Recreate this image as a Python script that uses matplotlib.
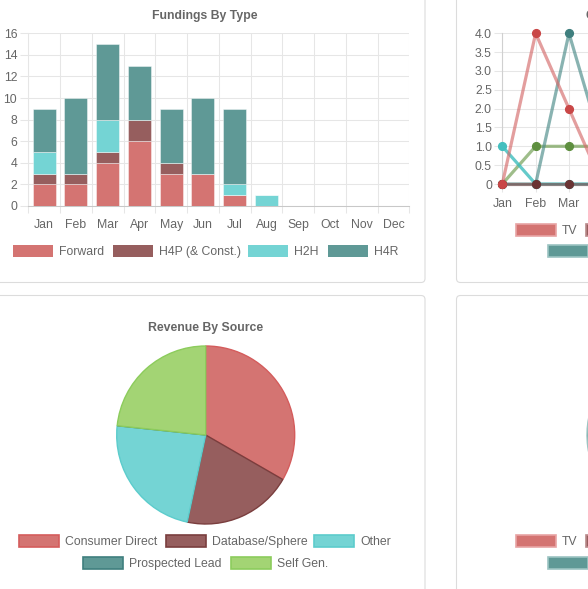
import numpy as np
import matplotlib
matplotlib.use('Agg')
import matplotlib.pyplot as plt
from matplotlib.patches import Rectangle, FancyBboxPatch
from matplotlib.transforms import Affine2D
from matplotlib.colors import to_rgba

plt.rcParams['font.family'] = ['Liberation Sans', 'DejaVu Sans']

# ---- data ----
months = ['Jan', 'Feb', 'Mar', 'Apr', 'May', 'Jun', 'Jul', 'Aug', 'Sep', 'Oct', 'Nov', 'Dec']

fund_names = ['Forward', 'H4P (& Const.)', 'H2H', 'H4R']
forward = [2, 2, 4, 6, 3, 3, 1, 0, 0, 0, 0, 0]
h4p = [1, 1, 1, 2, 1, 0, 0, 0, 0, 0, 0, 0]
h2h = [2, 0, 3, 0, 0, 0, 1, 1, 0, 0, 0, 0]
h4r = [4, 7, 7, 5, 5, 7, 7, 0, 0, 0, 0, 0]

# line chart (only Jan-Apr are visible in the crop)
tv = [0, 4, 2, 0]
internet = [0, 0, 0, 0]
radio = [1, 0, 0, 0]
referral = [0, 0, 4, 1]
printed = [0, 1, 1, 1]
visible_months = 3

rev_labels = ['Consumer Direct', 'Database/Sphere', 'Other', 'Prospected Lead', 'Self Gen.']
rev_values = [10, 6, 7, 0, 7]

src_values = [3, 1, 1, 5, 2]

RED = '#d47472'
MAROON = '#965e5e'
CYAN = '#74d4d4'
TEAL = '#5f9996'
GREEN = '#a3d474'
TXT = '#666666'
GRID = '#e6e6e6'
FS = 8.8

W, H = 588, 589
fig = plt.figure(figsize=(W / 100, H / 100), dpi=100)
px = Affine2D().scale(1.0 / W, -1.0 / H).translate(0, 1) + fig.transFigure


def box(x0, y0, x1, y1):
    return [x0 / W, 1 - y1 / H, (x1 - x0) / W, (y1 - y0) / H]


def card(x0, y0, x1, y1):
    p = FancyBboxPatch((x0, y0), x1 - x0, y1 - y0, boxstyle='round,pad=0,rounding_size=4',
                       transform=px, facecolor='white', edgecolor='#dcdcdc', lw=0.8, zorder=-5)
    fig.add_artist(p)


def legend(items, y):
    for x, label, face, edge in items:
        fig.add_artist(Rectangle((x, y - 6), 40, 12, transform=px, facecolor=face,
                                 edgecolor=edge, lw=1.2 if edge != 'none' else 0, zorder=5))
        if label:
            fig.text(x + 46, y + 4.3, label, transform=px, ha='left', va='baseline',
                     fontsize=FS, color=TXT, zorder=5)


card(-15, -20, 425, 282.5)
card(456.5, -20, 900, 282.5)
card(-15, 295.5, 425, 640)
card(456.5, 295.5, 900, 640)

# ---- Fundings By Type ----
ax = fig.add_axes(box(28.3, 33.3, 409.3, 206))
ax.set_facecolor('none')
x = np.arange(len(months))
bottom = np.zeros(len(months))
for vals, color in zip([forward, h4p, h2h, h4r], [RED, MAROON, CYAN, TEAL]):
    ax.bar(x, vals, 0.72, bottom=bottom, color=color, edgecolor=(1, 1, 1, 0.5), lw=0.6, zorder=3)
    bottom += np.array(vals)
ax.set_xlim(-0.5, 11.5)
ax.set_ylim(0, 16)
ax.set_yticks(range(0, 17, 2))
ax.set_xticks(x, months)
ax.set_xticks(np.arange(-0.5, 12, 1), minor=True)
ax.grid(axis='x', which='minor', color=GRID, lw=0.75)
ax.grid(axis='y', which='major', color=GRID, lw=0.75)
ax.tick_params(axis='x', which='major', length=0, pad=9.5, labelsize=FS, labelcolor=TXT)
ax.tick_params(axis='x', which='minor', length=5.2, color=GRID, width=0.75)
ax.tick_params(axis='y', length=5.5, color=GRID, width=0.75, pad=2.5, labelsize=FS, labelcolor=TXT)
for s in ['top', 'right']:
    ax.spines[s].set_visible(False)
ax.spines['left'].set_color(GRID)
ax.spines['bottom'].set_color('#c8c8c8')
ax.spines['left'].set_linewidth(0.75)
ax.spines['bottom'].set_linewidth(0.75)
fig.text(205, 16, 'Fundings By Type', transform=px, ha='center', va='center',
         fontsize=FS, weight='bold', color=TXT)
legend([(13, fund_names[0], RED, 'none'), (113, fund_names[1], MAROON, 'none'),
        (248, fund_names[2], CYAN, 'none'), (328, fund_names[3], TEAL, 'none')], 250.5)

# ---- line chart (cut off) ----
ax2 = fig.add_axes(box(502.3, 33.3, 869, 184))
ax2.set_facecolor('none')
ax2.set_xlim(0, 11)
ax2.set_ylim(0, 4)
ax2.set_xticks(range(12), [m if i < visible_months else '' for i, m in enumerate(months)])
ax2.set_yticks(np.arange(0, 4.01, 0.5))
ax2.yaxis.set_major_formatter(lambda v, p: '0' if v == 0 else f'{v:.1f}')
ax2.grid(color=GRID, lw=0.75)
ax2.set_axisbelow(True)
ax2.tick_params(axis='x', length=5.5, color=GRID, width=0.75, pad=4.5, labelsize=FS, labelcolor=TXT)
ax2.tick_params(axis='y', length=5.5, color=GRID, width=0.75, pad=2, labelsize=FS, labelcolor=TXT)
for s in ['top', 'right']:
    ax2.spines[s].set_visible(False)
ax2.spines['left'].set_color('#d0d0d0')
ax2.spines['bottom'].set_color('#d0d0d0')
line_series = [
    (tv, to_rgba('#d46a6a', 0.65), '#c94747'),
    (internet, to_rgba('#7b4545', 0.6), '#6a3434'),
    (radio, to_rgba('#3dbdbd', 0.8), '#44bfbf'),
    (referral, to_rgba('#4a8a88', 0.65), '#3f7f7e'),
    (printed, to_rgba('#6b9a4b', 0.65), '#5e8f3f'),
]
for i, (vals, lc, pc) in enumerate(line_series):
    ax2.plot(range(len(vals)), vals, color=lc, lw=2.3, marker='o', ms=5.6,
             mfc=pc, mec=pc, zorder=10 - i, clip_on=False)
fig.text(585.5, 16, 'Contacts By Source', transform=px, ha='left', va='center',
         fontsize=FS, weight='bold', color=TXT)
legend([(516, 'TV', RED, '#e8a4a4'), (586, '', MAROON, '#b88a8a')], 229.5)
legend([(547.5, '', TEAL, '#9cc4c2')], 251)

# ---- Revenue By Source ----
ax3 = fig.add_axes(box(116.7, 346, 294.7, 524))
wedges, _ = ax3.pie(rev_values, colors=[RED, MAROON, CYAN, TEAL, GREEN], startangle=90,
                    counterclock=False, radius=1, wedgeprops=dict(lw=1.0))
for w, ec in zip(wedges, ['#d45c5c', '#7a3e3e', '#5ccccc', '#3f7f7e', '#8ccc5c']):
    w.set_edgecolor(ec)
    w.set_clip_on(False)
ax3.set_xlim(-1, 1)
ax3.set_ylim(-1, 1)
fig.text(205.7, 328, 'Revenue By Source', transform=px, ha='center', va='center',
         fontsize=FS, weight='bold', color=TXT)
legend([(19, rev_labels[0], RED, '#d45c5c'), (165.7, rev_labels[1], MAROON, '#7a3e3e'),
        (314, rev_labels[2], CYAN, '#5ccccc')], 541)
legend([(83.3, rev_labels[3], TEAL, '#3f7f7e'), (231, rev_labels[4], GREEN, '#8ccc5c')], 563)

# ---- second pie (cut off) ----
ax4 = fig.add_axes(box(587, 346, 765, 524))
wedges, _ = ax4.pie(src_values, colors=[RED, MAROON, CYAN, TEAL, GREEN], startangle=90,
                    counterclock=False, radius=1, wedgeprops=dict(lw=1.0, edgecolor='#9cc4c2'))
for w in wedges:
    w.set_clip_on(False)
ax4.set_xlim(-1, 1)
ax4.set_ylim(-1, 1)
legend([(516, 'TV', RED, '#e8a4a4'), (586, '', MAROON, '#b88a8a')], 541)
legend([(547.5, '', TEAL, '#9cc4c2')], 563)

fig.savefig('out.png', dpi=100)
